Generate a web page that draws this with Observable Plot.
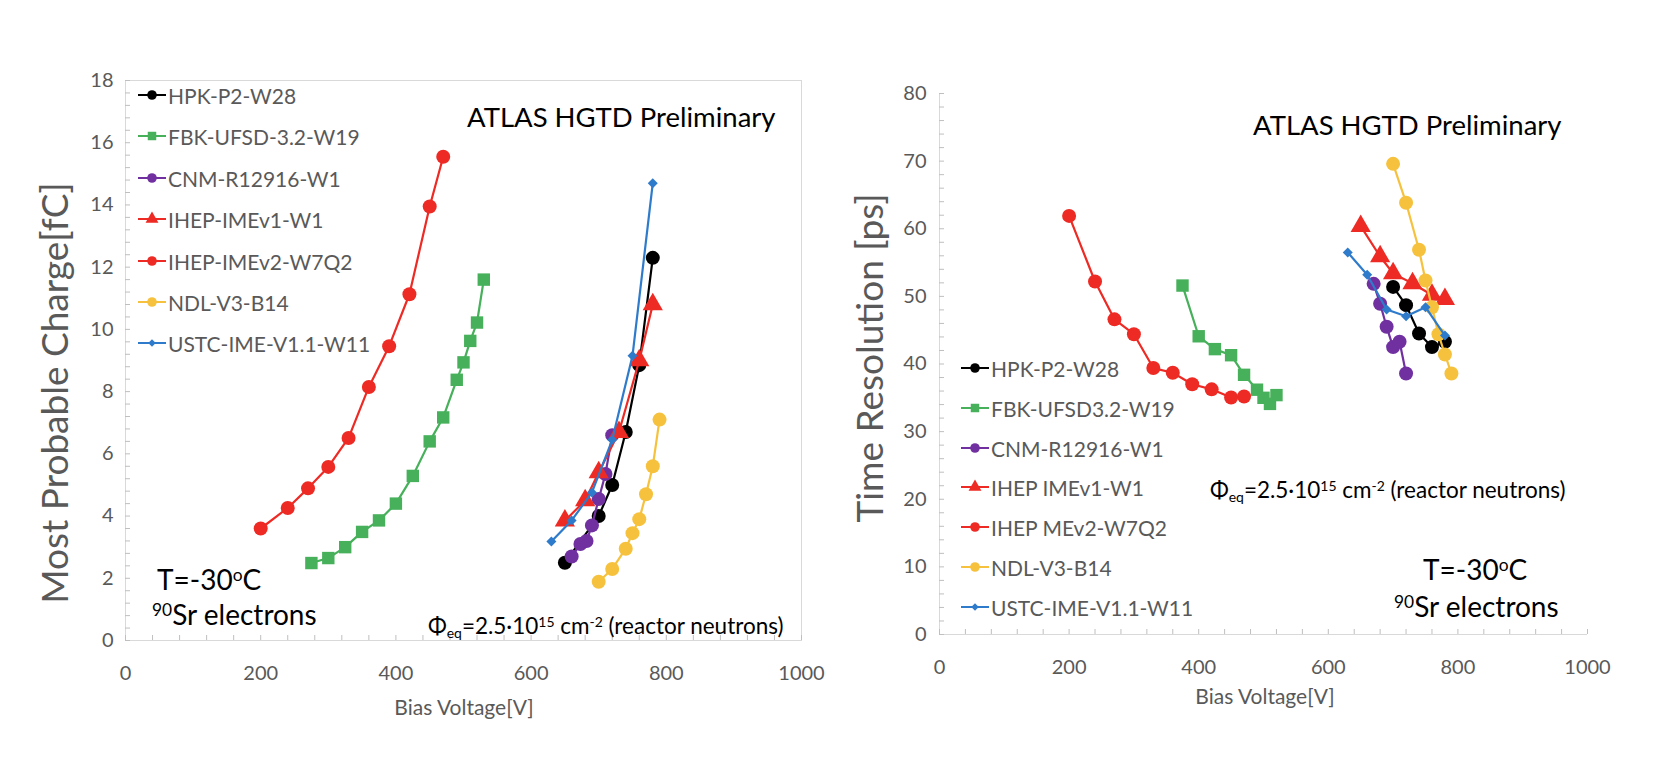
<!DOCTYPE html>
<html><head><meta charset="utf-8">
<script src="https://cdn.jsdelivr.net/npm/d3@7"></script>
<script src="https://cdn.jsdelivr.net/npm/@observablehq/plot@0.6"></script>
<style>
body{margin:0;background:#fff;font-family:Lato,"Open Sans",sans-serif;}
#wrap{position:relative;width:1662px;height:778px;overflow:hidden;background:#fff;}
#wrap svg.chart{position:absolute;left:0;top:0;}
.t{position:absolute;white-space:nowrap;transform:translateY(-50%);line-height:1;}
.sup{font-size:0.62em;position:relative;top:-0.5em;}
.sub{font-size:0.62em;position:relative;top:0.3em;}
</style></head><body><div id="wrap"></div>
<script>
// ---- series definitions ----
const namesLeft  = ["HPK-P2-W28","FBK-UFSD-3.2-W19","CNM-R12916-W1","IHEP-IMEv1-W1","IHEP-IMEv2-W7Q2","NDL-V3-B14","USTC-IME-V1.1-W11"];
const namesRight = ["HPK-P2-W28","FBK-UFSD3.2-W19","CNM-R12916-W1","IHEP IMEv1-W1","IHEP MEv2-W7Q2","NDL-V3-B14","USTC-IME-V1.1-W11"];
const colors  = ["#000000","#46B05A","#7030A0","#EE2A24","#EE2A24","#F6C23E","#2F7BCB"];
const symbols = ["circle","square","circle","triangle","circle","circle","diamond2"];
const radii   = [7,7,7,7.5,7,7,4.5];

// ---- left chart: most probable charge [fC] vs bias voltage [V] ----
const hpkV   = [650,700,720,740,760,780];
const hpkQ   = [2.5,4.0,5.0,6.7,8.85,12.3];
const fbkV   = [275,300,325,350,375,400,425,450,470,490,500,510,520,530];
const fbkQ   = [2.49,2.65,3.0,3.49,3.86,4.4,5.29,6.4,7.17,8.38,8.94,9.63,10.22,11.6];
const cnmV   = [660,673,682,690,700,710,720];
const cnmQ   = [2.7,3.1,3.2,3.7,4.55,5.35,6.6];
const ihep1V = [650,680,700,730,760,780];
const ihep1Q = [3.85,4.5,5.4,6.7,9.0,10.8];
const ihep2V = [200,240,270,300,330,360,390,420,450,470];
const ihep2Q = [3.6,4.26,4.89,5.58,6.51,8.15,9.46,11.13,13.95,15.55];
const ndlV   = [700,720,740,750,760,770,780,790];
const ndlQ   = [1.89,2.3,2.95,3.45,3.9,4.7,5.6,7.1];
const ustcV  = [630,660,690,720,750,780];
const ustcQ  = [3.18,3.86,4.76,6.45,9.15,14.7];

// ---- right chart: time resolution [ps] vs bias voltage [V] ----
const hpkV2   = [700,720,740,760,780];
const hpkT    = [51.4,48.7,44.5,42.5,43.3];
const fbkV2   = [375,400,425,450,470,490,500,510,520];
const fbkT    = [51.6,44.1,42.2,41.3,38.4,36.2,35.0,34.1,35.4];
const cnmV2   = [670,680,690,700,710,720];
const cnmT    = [51.85,48.9,45.5,42.5,43.3,38.6];
const ihep1V2 = [650,680,700,730,760,780];
const ihep1T  = [60.4,55.9,53.4,51.9,50.2,49.6];
const ihep2V2 = [200,240,270,300,330,360,390,420,450,470];
const ihep2T  = [61.9,52.2,46.6,44.4,39.4,38.7,37.0,36.25,35.05,35.2];
const ndlV2   = [700,720,740,750,760,770,780,790];
const ndlT    = [69.6,63.85,56.9,52.35,48.4,44.4,41.4,38.6];
const ustcV2  = [630,660,690,720,750,780];
const ustcT   = [56.5,53.2,48.05,47.06,48.4,44.2];

// ---- axis ticks ----
const xTicks = [0,200,400,600,800,1000];
const yTicksLeft = [0,2,4,6,8,10,12,14,16,18];
const yTicksRight = [0,10,20,30,40,50,60,70,80];

const leftSeries  = [[hpkV,hpkQ],[fbkV,fbkQ],[cnmV,cnmQ],[ihep1V,ihep1Q],[ihep2V,ihep2Q],[ndlV,ndlQ],[ustcV,ustcQ]];
const rightSeries = [[hpkV2,hpkT],[fbkV2,fbkT],[cnmV2,cnmT],[ihep1V2,ihep1T],[ihep2V2,ihep2T],[ndlV2,ndlT],[ustcV2,ustcT]];

function rows(series){
  return series.map(([xs,ys],i)=>xs.map((x,j)=>({s:i,x,y:ys[j]})));
}

const W = 1662, H = 778;
const gray = "#595959";
const axisGray = "#D9D9D9";
const tickGray = "#BFBFBF";
const fmt = d => String(d);

function seriesMarks(data){
  const m=[];
  data.forEach((d,i)=>{
    m.push(Plot.line(d,{x:"x",y:"y",stroke:colors[i],strokeWidth:2.2,curve:"linear"}));
    m.push(Plot.dot(d,{x:"x",y:"y",symbol:symbols[i],fill:colors[i],stroke:"none",r:radii[i]}));
  });
  return m;
}

const minorX = d3.range(0,26).map(i=>i*40);

// left chart
const L = {left:125,right:801,top:80,bottom:640};
const leftPlot = Plot.plot({
  width:W,height:H,
  marginLeft:L.left,marginRight:W-L.right,marginTop:L.top,marginBottom:H-L.bottom,
  x:{domain:[0,1000]},y:{domain:[0,18]},
  style:{background:"transparent",fontFamily:"Lato, sans-serif"},
  marks:[
    Plot.frame({stroke:axisGray}),
    Plot.axisY(d3.range(0,46).map(i=>+(i*0.4).toFixed(1)),{tickSize:-5,tickFormat:()=>"",stroke:tickGray,label:null}),
    Plot.axisX(minorX,{tickSize:-5,tickFormat:()=>"",stroke:tickGray,label:null}),
    Plot.axisY(yTicksLeft,{tickSize:0,tickPadding:12,fontSize:20,fill:gray,label:null,tickFormat:fmt}),
    Plot.axisX(xTicks,{tickSize:0,tickPadding:25,fontSize:20,fill:gray,label:null,tickFormat:fmt}),
    ...seriesMarks(rows(leftSeries))
  ]
});
leftPlot.setAttribute("class","chart");

// right chart
const R = {left:939,right:1587,top:93,bottom:634};
const rightPlot = Plot.plot({
  width:W,height:H,
  marginLeft:R.left,marginRight:W-R.right,marginTop:R.top,marginBottom:H-R.bottom,
  x:{domain:[0,1000]},y:{domain:[0,80]},
  style:{background:"transparent",fontFamily:"Lato, sans-serif"},
  marks:[
    Plot.ruleY([0],{stroke:axisGray}),
    Plot.ruleX([0],{stroke:axisGray}),
    Plot.axisY(d3.range(0,41).map(i=>i*2),{tickSize:-5,tickFormat:()=>"",stroke:tickGray,label:null}),
    Plot.axisX(minorX,{tickSize:-5,tickFormat:()=>"",stroke:tickGray,label:null}),
    Plot.axisY(yTicksRight,{tickSize:0,tickPadding:13,fontSize:20,fill:gray,label:null,tickFormat:fmt}),
    Plot.axisX(xTicks,{tickSize:0,tickPadding:25,fontSize:20,fill:gray,label:null,tickFormat:fmt}),
    ...seriesMarks(rows(rightSeries))
  ]
});
rightPlot.setAttribute("class","chart");

const wrap = document.getElementById("wrap");
wrap.appendChild(leftPlot);
wrap.appendChild(rightPlot);

function addText(html,x,y,style){
  const d=document.createElement("div");
  d.className="t";
  d.innerHTML=html;
  d.style.left=x+"px";d.style.top=y+"px";
  Object.assign(d.style,style||{});
  wrap.appendChild(d);
  return d;
}
function addRot(text,cx,cy,size){
  const d=document.createElement("div");
  d.textContent=text;
  Object.assign(d.style,{position:"absolute",left:cx+"px",top:cy+"px",whiteSpace:"nowrap",
    transform:"translate(-50%,-50%) rotate(-90deg)",fontSize:size+"px",color:gray,lineHeight:"1"});
  wrap.appendChild(d);
}
function addLegend(names,x0,y0,dy,size){
  names.forEach((n,i)=>{
    const y=y0+i*dy;
    const svg=d3.create("svg").attr("width",30).attr("height",18)
      .style("position","absolute").style("left",x0+"px").style("top",(y-9)+"px");
    svg.append("line").attr("x1",1).attr("x2",29).attr("y1",9).attr("y2",9)
      .attr("stroke",colors[i]).attr("stroke-width",2);
    const symMap={circle:d3.symbolCircle,square:d3.symbolSquare,triangle:d3.symbolTriangle,diamond2:d3.symbolDiamond2};
    const area=symbols[i]==="diamond2"?36:72;
    svg.append("path").attr("d",d3.symbol(symMap[symbols[i]],area)()).attr("transform","translate(15,9)").attr("fill",colors[i]);
    wrap.appendChild(svg.node());
    addText(n,x0+31,y,{fontSize:size+"px",color:gray});
  });
}

// axis titles
addRot("Most Probable Charge[fC]",53,393,37);
addRot("Time Resolution [ps]",868,358,37);
addText("Bias Voltage[V]",464,706,{fontSize:"21px",color:gray,transform:"translate(-50%,-50%)"});
addText("Bias Voltage[V]",1265,695,{fontSize:"21px",color:gray,transform:"translate(-50%,-50%)"});

// legends
addLegend(namesLeft,137,95,41.4,21);
addLegend(namesRight,960,368,39.8,21);

// annotations
const phi = 'Φ<span class="sub">eq</span>=2.5·10<span class="sup">15</span> cm<span class="sup">-2</span> (reactor neutrons)';
addText("ATLAS HGTD Preliminary",467,117,{fontSize:"27.5px",color:"#000"});
addText("ATLAS HGTD Preliminary",1253,125,{fontSize:"27.5px",color:"#000"});
addText(phi,428,626,{fontSize:"22.5px",color:"#000"});
addText(phi,1210,490,{fontSize:"22.5px",color:"#000"});
addText('T=-30<span class="sup">o</span>C',157,579,{fontSize:"28px",color:"#000"});
addText('<span class="sup">90</span>Sr electrons',152,614,{fontSize:"28px",color:"#000"});
addText('T=-30<span class="sup">o</span>C',1423,569,{fontSize:"28px",color:"#000"});
addText('<span class="sup">90</span>Sr electrons',1394,606,{fontSize:"28px",color:"#000"});
</script></body></html>
